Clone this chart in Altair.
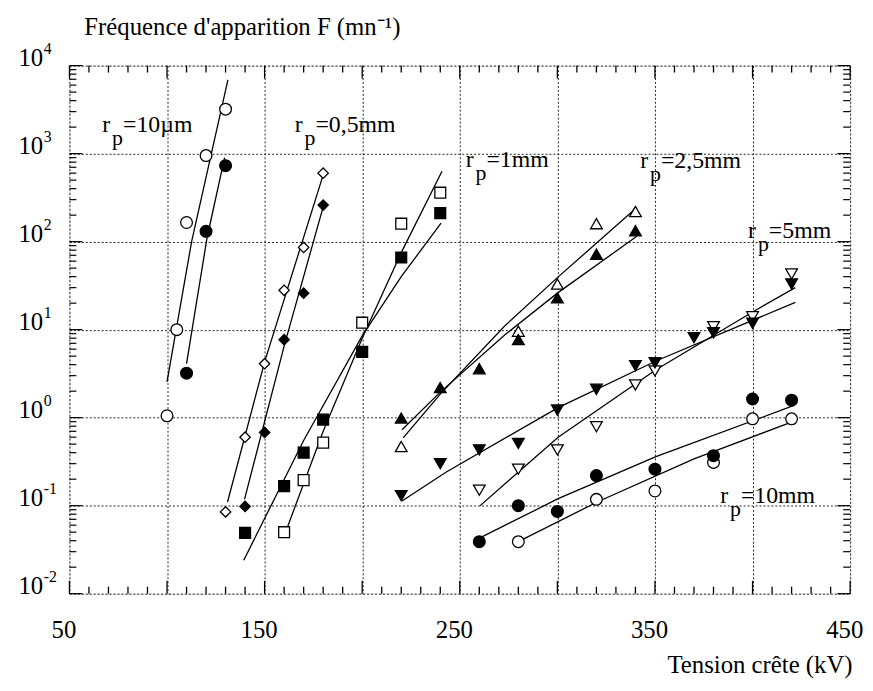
import altair as alt
import pandas as pd

FONT = "Liberation Serif"
W, H = 788, 533

# ---------------- data ----------------
# r_p = 10 µm (circles)
um10_open_x = [100, 105, 110, 120, 130]
um10_open_y = [1.05, 10, 165, 950, 3200]
um10_fill_x = [110, 120, 130]
um10_fill_y = [3.2, 131, 730]
# r_p = 0,5 mm (diamonds)
mm05_open_x = [130, 140, 150, 160, 170, 180]
mm05_open_y = [0.085, 0.6, 4.1, 28, 86, 600]
mm05_fill_x = [140, 150, 160, 170, 180]
mm05_fill_y = [0.098, 0.68, 7.7, 26, 260]
# r_p = 1 mm (squares)
mm1_open_x = [160, 170, 180, 200, 220, 240]
mm1_open_y = [0.05, 0.195, 0.52, 12, 160, 360]
mm1_fill_x = [140, 160, 170, 180, 200, 220, 240]
mm1_fill_y = [0.049, 0.167, 0.40, 0.95, 5.6, 66, 211]
# r_p = 2,5 mm (up triangles)
mm25_open_x = [220, 280, 300, 320, 340]
mm25_open_y = [0.47, 9.6, 33, 160, 220]
mm25_fill_x = [220, 240, 260, 280, 300, 320, 340]
mm25_fill_y = [0.99, 2.2, 3.6, 7.7, 23, 72, 133]
# r_p = 5 mm (down triangles)
mm5_open_x = [260, 280, 300, 320, 340, 350, 380, 400, 420]
mm5_open_y = [0.15, 0.26, 0.43, 0.79, 2.35, 3.4, 10.8, 14, 43]
mm5_fill_x = [220, 240, 260, 280, 300, 320, 340, 350, 370, 380, 400, 420]
mm5_fill_y = [0.13, 0.30, 0.43, 0.51, 1.22, 2.1, 3.9, 4.2, 8.1, 9.2, 11.8, 33]
# r_p = 10 mm (circles)
mm10_open_x = [280, 320, 350, 380, 400, 420]
mm10_open_y = [0.039, 0.118, 0.147, 0.31, 0.97, 0.97]
mm10_fill_x = [260, 280, 300, 320, 350, 380, 400, 420]
mm10_fill_y = [0.039, 0.10, 0.086, 0.22, 0.26, 0.37, 1.63, 1.58]

# fitted lines
fit_um10_open_x = [100, 112.6, 131.2]
fit_um10_open_y = [2.55, 100, 6900]
fit_um10_fill_x = [110, 120.5, 129.5]
fit_um10_fill_y = [4.1, 110, 900]
fit_mm05_open_x = [131, 150, 180.3]
fit_mm05_open_y = [0.11, 4.3, 600]
fit_mm05_fill_x = [139.7, 160, 180.3]
fit_mm05_fill_y = [0.118, 6.5, 262]
fit_mm1_open_x = [161.3, 180, 200, 220, 240.9]
fit_mm1_open_y = [0.054, 0.7, 8.0, 75, 630]
fit_mm1_fill_x = [139.3, 170, 200, 220, 240.4]
fit_mm1_fill_y = [0.024, 0.55, 8.5, 40, 162]
fit_mm25_open_x = [221, 240, 273, 300, 340.7]
fit_mm25_open_y = [0.59, 1.85, 11, 39, 244]
fit_mm25_fill_x = [220.4, 240, 273, 300, 340.7]
fit_mm25_fill_y = [0.73, 1.95, 8.7, 26, 115]
fit_mm5_open_x = [260.3, 300.4, 350.5, 401.1, 421.9]
fit_mm5_open_y = [0.0995, 0.60, 3.5, 16.4, 30]
fit_mm5_fill_x = [220.4, 242.9, 300.4, 350.5, 421.9]
fit_mm5_fill_y = [0.113, 0.24, 1.3, 4.4, 20.4]
fit_mm10_open_x = [281, 320.4, 370, 420.6]
fit_mm10_open_y = [0.040, 0.11, 0.34, 0.90]
fit_mm10_fill_x = [260.3, 300.4, 350.5, 420.6]
fit_mm10_fill_y = [0.043, 0.12, 0.36, 1.36]

# annotations ("r", subscript "p", then the value)
label_value = ["=10µm", "=0,5mm", "=1mm", "=2,5mm", "=5mm", "=10mm"]
label_x = [66.8, 165.4, 253.0, 342.4, 397.7, 383.4]
label_y = [1758, 1758, 708, 690, 110, 0.107]

# axis ticks
x_major = [50, 100, 150, 200, 250, 300, 350, 400, 450]
x_minor = [v for v in range(60, 450, 10) if v % 50 != 0]
y_major = [0.01, 0.1, 1, 10, 100, 1000, 10000]
y_exponent = ["-2", "-1", "0", "1", "2", "3", "4"]
y_minor_mult = [2, 3, 4, 5, 6, 7, 8, 9]
y_minor = [m * d for d in [0.01, 0.1, 1, 10, 100, 1000] for m in y_minor_mult]

# ---------------- chart ----------------
xscale = alt.Scale(domain=[50, 450], nice=False, zero=False)
yscale = alt.Scale(type="log", domain=[0.01, 10000], nice=False)

xaxis = alt.Axis(values=x_major, labelExpr="datum.value % 100 == 50 ? datum.label : ''",
                 ticks=False, domain=False, grid=True, gridDash=[2, 2], gridColor="#222",
                 gridWidth=1, labelFont=FONT, labelFontSize=25, labelColor="black",
                 labelPadding=24, labelOffset=-6, labelFlush=False, labelOverlap=False,
                 title="Tension crête (kV)", titleFont=FONT, titleFontSize=25,
                 titleFontWeight="normal", titleColor="black", titleAnchor="end",
                 titleAlign="right", titleX=W + 2, titleY=80, titleBaseline="alphabetic")
# y labels: "10" from the axis, exponent drawn as a separate raised text
yaxis = alt.Axis(values=y_major, labelExpr="'10'", ticks=False, domain=False, grid=True,
                 gridDash=[2, 2], gridColor="#222", gridWidth=1, labelFont=FONT,
                 labelFontSize=25, labelColor="black", labelPadding=27,
                 labelBaseline="alphabetic", labelAlign="right", labelOverlap=False,
                 title=None)

def X(field="x"):
    return alt.X(f"{field}:Q", scale=xscale, axis=xaxis)

def Y(field="y"):
    return alt.Y(f"{field}:Q", scale=yscale, axis=yaxis)

# fit lines
fits = [
    ("a", fit_um10_open_x, fit_um10_open_y), ("b", fit_um10_fill_x, fit_um10_fill_y),
    ("c", fit_mm05_open_x, fit_mm05_open_y), ("d", fit_mm05_fill_x, fit_mm05_fill_y),
    ("e", fit_mm1_open_x, fit_mm1_open_y), ("f", fit_mm1_fill_x, fit_mm1_fill_y),
    ("g", fit_mm25_open_x, fit_mm25_open_y), ("h", fit_mm25_fill_x, fit_mm25_fill_y),
    ("i", fit_mm5_open_x, fit_mm5_open_y), ("j", fit_mm5_fill_x, fit_mm5_fill_y),
    ("k", fit_mm10_open_x, fit_mm10_open_y), ("l", fit_mm10_fill_x, fit_mm10_fill_y),
]
line_df = pd.concat([pd.DataFrame({"x": xs, "y": ys, "id": k}) for k, xs, ys in fits])
lines = alt.Chart(line_df).mark_line(color="black", strokeWidth=1.3).encode(
    x=X(), y=Y(), detail="id:N")

series = [
    (um10_open_x, um10_open_y, "circle", False, 140),
    (um10_fill_x, um10_fill_y, "circle", True, 140),
    (mm05_open_x, mm05_open_y, "diamond", False, 110),
    (mm05_fill_x, mm05_fill_y, "diamond", True, 110),
    (mm1_open_x, mm1_open_y, "square", False, 120),
    (mm1_fill_x, mm1_fill_y, "square", True, 120),
    (mm25_open_x, mm25_open_y, "triangle-up", False, 140),
    (mm25_fill_x, mm25_fill_y, "triangle-up", True, 140),
    (mm5_open_x, mm5_open_y, "triangle-down", False, 140),
    (mm5_fill_x, mm5_fill_y, "triangle-down", True, 140),
    (mm10_open_x, mm10_open_y, "circle", False, 140),
    (mm10_fill_x, mm10_fill_y, "circle", True, 140),
]
point_layers = []
for xs, ys, shape, filled, size in series:
    d = pd.DataFrame({"x": xs, "y": ys})
    point_layers.append(
        alt.Chart(d).mark_point(shape=shape, filled=True, size=size,
                                fill="black" if filled else "white", stroke="black",
                                strokeWidth=1.3, opacity=1)
        .encode(x=X(), y=Y()))

# tick marks (inward)
xmaj_df = pd.DataFrame({"x": x_major})
xmin_df = pd.DataFrame({"x": x_minor})
ymaj_df = pd.DataFrame({"y": y_major})
ymin_df = pd.DataFrame({"y": y_minor})
tick_layers = []
for df_, L in [(xmaj_df, 13), (xmin_df, 7)]:
    tick_layers.append(alt.Chart(df_).mark_rule(color="black", strokeWidth=1.3).encode(
        x=X(), y=alt.value(H), y2=alt.value(H - L)))
    tick_layers.append(alt.Chart(df_).mark_rule(color="black", strokeWidth=1.3).encode(
        x=X(), y=alt.value(0), y2=alt.value(L)))
for df_, L in [(ymaj_df, 13), (ymin_df, 7)]:
    tick_layers.append(alt.Chart(df_).mark_rule(color="black", strokeWidth=1.2).encode(
        y=Y(), x=alt.value(0), x2=alt.value(L)))
    tick_layers.append(alt.Chart(df_).mark_rule(color="black", strokeWidth=1.2).encode(
        y=Y(), x=alt.value(W), x2=alt.value(W - L)))

# exponents of the y labels
exp_df = pd.DataFrame({"y": y_major, "e": y_exponent})
exps = alt.Chart(exp_df).mark_text(font=FONT, fontSize=16, align="left",
                                   baseline="alphabetic", color="black", dy=-12).encode(
    x=alt.value(-26), y=Y(), text="e:N")

lab_df = pd.DataFrame({"x": label_x, "y": label_y, "t": label_value})
lab_r = alt.Chart(lab_df).mark_text(font=FONT, fontSize=24, align="left",
                                    baseline="alphabetic", color="black", text="r").encode(
    x=X(), y=Y())
lab_p = alt.Chart(lab_df).mark_text(font=FONT, fontSize=22, align="left",
                                    baseline="alphabetic", color="black", dx=10, dy=13,
                                    text="p").encode(x=X(), y=Y())
lab_v = alt.Chart(lab_df).mark_text(font=FONT, fontSize=24, align="left",
                                    baseline="alphabetic", color="black", dx=21).encode(
    x=X(), y=Y(), text="t:N")

# y-axis title (horizontal, above the plot), superscript -1 via unicode
ttl = alt.Chart(pd.DataFrame({"t": ["Fréquence d'apparition F (mn\u207b\u00b9)"]})).mark_text(
    font=FONT, fontSize=25, align="left", baseline="alphabetic", color="black").encode(
    x=alt.value(15), y=alt.value(-31), text="t:N")

chart = alt.layer(lines, *point_layers, *tick_layers, exps, lab_r, lab_p, lab_v,
                  ttl).properties(
    width=W, height=H,
    autosize=alt.AutoSizeParams(type="none"),
    padding={"left": 62, "top": 55, "right": 15, "bottom": 87},
).configure_view(stroke="black", strokeWidth=1.5).configure(background="white")

chart.save("out.html", embed_options={"renderer": "svg", "actions": False})
